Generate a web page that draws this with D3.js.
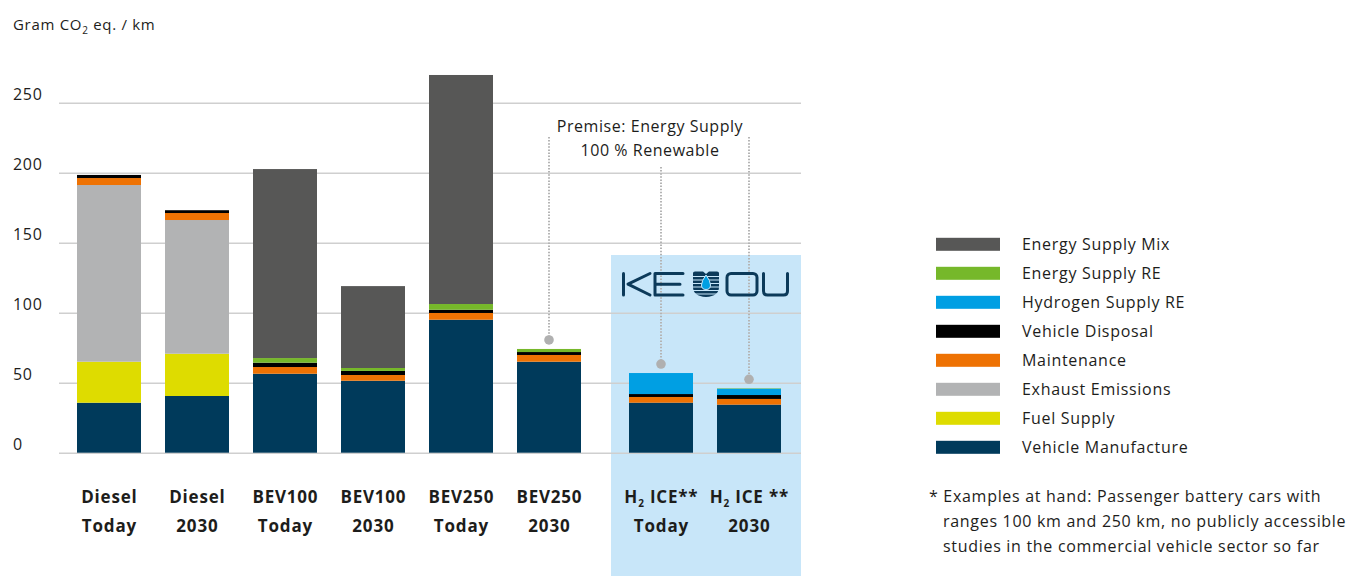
<!DOCTYPE html>
<html>
<head>
<meta charset="utf-8">
<script src="https://cdn.jsdelivr.net/npm/d3@7/dist/d3.min.js"></script>
<style>
  html, body { margin: 0; padding: 0; background: #fff; }
  svg { display: block; font-family: "Open Sans", "DejaVu Sans", sans-serif; }
</style>
</head>
<body>
<svg id="chart" width="1354" height="576"></svg>
<script>
// ---------------- DATA ----------------
const categories = ["Diesel Today", "Diesel 2030", "BEV100 Today", "BEV100 2030", "BEV250 Today", "BEV250 2030", "H2 ICE Today", "H2 ICE 2030"];
const labelLine1 = ["Diesel", "Diesel", "BEV100", "BEV100", "BEV250", "BEV250", "H2 ICE**", "H2 ICE **"];
const labelLine2 = ["Today", "2030", "Today", "2030", "Today", "2030", "Today", "2030"];
const keyouGroup = ["H2 ICE Today", "H2 ICE 2030"];

const seriesNames = ["Vehicle Manufacture", "Fuel Supply", "Exhaust Emissions", "Maintenance", "Vehicle Disposal", "Hydrogen Supply RE", "Energy Supply RE", "Energy Supply Mix"];
const seriesColors = ["#003a5b", "#dedc00", "#b2b3b4", "#ee7203", "#000000", "#009fe3", "#76b82a", "#575756"];

const vehicleManufacture = [35.7, 40.5, 56.4, 51.4, 95.0, 65.0, 35.7, 34.3];
const fuelSupply         = [29.3, 30.2, 0, 0, 0, 0, 0, 0];
const exhaustEmissions   = [126.2, 95.5, 0, 0, 0, 0, 0, 0];
const maintenance        = [5.0, 5.0, 4.8, 4.1, 4.8, 4.8, 4.1, 4.1];
const vehicleDisposal    = [2.2, 2.0, 3.1, 2.9, 2.3, 2.1, 2.1, 2.8];
const hydrogenSupplyRE   = [0, 0, 0, 0, 0, 0, 15.0, 4.5];
const energySupplyRE     = [0, 0, 3.3, 2.1, 4.1, 2.2, 0, 0.3];
const energySupplyMix    = [0, 0, 135.0, 58.5, 163.6, 0, 0, 0];

const yTicks = [0, 50, 100, 150, 200, 250];
const annotatedBars = ["BEV250 2030", "H2 ICE Today", "H2 ICE 2030"];
const annotationText = ["Premise: Energy Supply", "100 % Renewable"];
const footnote = ["* Examples at hand: Passenger battery cars with", "ranges 100 km and 250 km, no publicly accessible", "studies in the commercial vehicle sector so far"];

// ---------------- BUILD ----------------
const seriesValues = [vehicleManufacture, fuelSupply, exhaustEmissions, maintenance, vehicleDisposal, hydrogenSupplyRE, energySupplyRE, energySupplyMix];
const table = categories.map((c, i) => {
  const row = { cat: c };
  seriesNames.forEach((s, j) => row[s] = seriesValues[j][i]);
  return row;
});
const stacked = d3.stack().keys(seriesNames)(table);

const svg = d3.select("#chart");
const textColor = "#1d1d1b";
const ls = 0.7;

const x = d3.scaleBand().domain(categories).range([77, 757]).paddingInner(24 / 88).paddingOuter(0);
const groupOffset = c => keyouGroup.includes(c) ? 24 : 0;
const xPos = c => x(c) + groupOffset(c);
const y = d3.scaleLinear().domain([0, 250]).range([452.7, 102.7]);

// KEYOU background box
svg.append("rect")
  .attr("x", xPos(keyouGroup[0]) - 18).attr("y", 255)
  .attr("width", 801 - (xPos(keyouGroup[0]) - 18)).attr("height", 576 - 255)
  .attr("fill", "#c8e6f9");

// Grid lines
const yAxis = d3.axisLeft(y).tickValues(yTicks).tickSize(-(801 - 59)).tickFormat("");
const gAxis = svg.append("g").attr("transform", "translate(59,0)").call(yAxis);
gAxis.select(".domain").remove();
gAxis.selectAll(".tick line").attr("stroke", "#cfcfcf").attr("stroke-width", 1.6);

// Y tick labels
svg.append("g").selectAll("text").data(yTicks).join("text")
  .attr("x", 13).attr("y", d => y(d) - 2.7)
  .attr("font-size", 16).attr("letter-spacing", ls).attr("fill", textColor)
  .text(d => d);

// Y axis title
const title = svg.append("text").attr("x", 13).attr("y", 30).attr("font-size", 15)
  .attr("letter-spacing", ls).attr("fill", textColor);
title.append("tspan").text("Gram CO");
title.append("tspan").attr("font-size", 10).attr("dy", 4).text("2");
title.append("tspan").attr("dy", -4).text(" eq. / km");

// Bars
svg.append("g").selectAll("g").data(stacked).join("g")
  .attr("fill", (d, i) => seriesColors[i])
  .selectAll("rect").data(d => d.filter(p => p[1] - p[0] > 0)).join("rect")
  .attr("x", d => xPos(d.data.cat))
  .attr("width", x.bandwidth())
  .attr("y", d => y(d[1]))
  .attr("height", d => y(d[0]) - y(d[1]));

// Annotation dotted lines & dots
const totals = table.map(r => seriesNames.reduce((a, s) => a + r[s], 0));
const lineTops = [137, 167, 137];
annotatedBars.forEach((c, k) => {
  const i = categories.indexOf(c);
  const cx = xPos(c) + x.bandwidth() / 2;
  const cy = y(totals[i]) - 9;
  svg.append("line")
    .attr("x1", cx).attr("x2", cx).attr("y1", lineTops[k]).attr("y2", cy)
    .attr("stroke", "#b4b4b4").attr("stroke-width", 2).attr("stroke-dasharray", "1.5 1.6");
  svg.append("circle").attr("cx", cx).attr("cy", cy).attr("r", 4.8).attr("fill", "#b0b0b0");
});
svg.append("g").selectAll("text").data(annotationText).join("text")
  .attr("x", 650).attr("y", (d, i) => 132 + i * 24)
  .attr("text-anchor", "middle").attr("font-size", 16).attr("letter-spacing", 0.55).attr("fill", textColor)
  .text(d => d);

// X labels
const xl = svg.append("g").attr("font-weight", 700).attr("font-size", 17).attr("letter-spacing", 0.8)
  .attr("fill", textColor).attr("text-anchor", "middle");
categories.forEach((c, i) => {
  const cx = xPos(c) + x.bandwidth() / 2 + 0.4;
  const t1 = xl.append("text").attr("x", cx).attr("y", 503);
  const l1 = labelLine1[i];
  if (l1.startsWith("H2")) {
    t1.append("tspan").text("H");
    t1.append("tspan").attr("font-size", 10).attr("dy", 4).text("2");
    t1.append("tspan").attr("dy", -4).text(l1.slice(2));
  } else {
    t1.text(l1);
  }
  xl.append("text").attr("x", cx).attr("y", 532).text(labelLine2[i]);
});

// Legend
const legendNames = seriesNames.slice().reverse();
const legendColors = seriesColors.slice().reverse();
const lg = svg.append("g").selectAll("g").data(legendNames).join("g")
  .attr("transform", (d, i) => `translate(936, ${244.3 + i * 29})`);
lg.append("rect").attr("x", 0).attr("y", -6.5).attr("width", 64).attr("height", 13)
  .attr("fill", (d, i) => legendColors[i]);
lg.append("text").attr("x", 86).attr("y", 5.6).attr("font-size", 16).attr("letter-spacing", ls)
  .attr("fill", textColor).text(d => d);

// Footnote
svg.append("g").selectAll("text").data(footnote).join("text")
  .attr("x", (d, i) => i === 0 ? 929 : 943)
  .attr("y", (d, i) => 502 + i * 25)
  .attr("font-size", 16).attr("letter-spacing", ls).attr("fill", textColor)
  .text(d => d);

// KEYOU logo (drawn as strokes)
const logo = svg.append("g").attr("fill", "none").attr("stroke", "#0c3a5a").attr("stroke-width", 3)
  .attr("stroke-linecap", "round").attr("stroke-linejoin", "round");
// K
logo.append("path").attr("d", "M623.5,273.5 V295");
logo.append("path").attr("d", "M650,273.5 L628,284.2 L650,295");
// E
logo.append("path").attr("d", "M683,273.5 H655 V295 H683 M655,284.2 H680");
// O
logo.append("rect").attr("x", 727).attr("y", 273.5).attr("width", 30).attr("height", 21.5).attr("rx", 4);
// U
logo.append("path").attr("d", "M763.5,273.5 V291 Q763.5,295 767.5,295 H783.5 Q787.5,295 787.5,291 V273.5");
// Shield icon
const shield = svg.append("g");
shield.append("path")
  .attr("d", "M693,273 Q693,271.5 695,271.5 H703 L706,274 L709,271.5 H717 Q719,271.5 719,273 V287 Q719,296 706,297 Q693,296 693,287 Z")
  .attr("fill", "#0c3a5a");
[276.5, 280, 283.5, 287, 290.5, 294].forEach(yy => {
  shield.append("line").attr("x1", 692).attr("x2", 720).attr("y1", yy).attr("y2", yy)
    .attr("stroke", "#c8e6f9").attr("stroke-width", 1);
});
shield.append("path")
  .attr("d", "M706,275 Q710.5,281 710.5,285 Q710.5,289.5 706,289.5 Q701.5,289.5 701.5,285 Q701.5,281 706,275 Z")
  .attr("fill", "#009fe3").attr("stroke", "#c8e6f9").attr("stroke-width", 1);
</script>
</body>
</html>
